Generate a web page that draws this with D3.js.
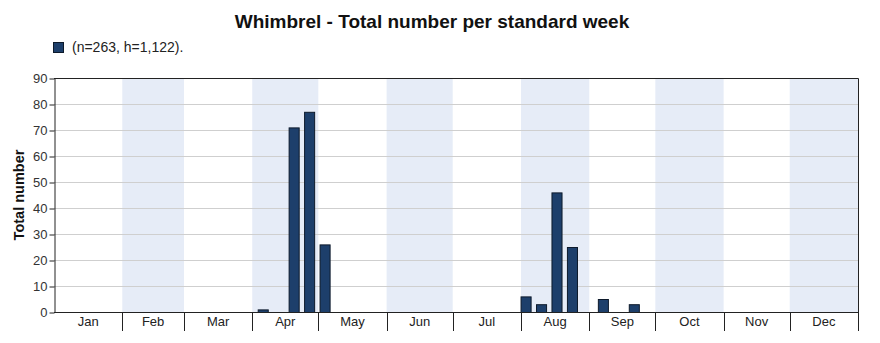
<!DOCTYPE html>
<html>
<head>
<meta charset="utf-8">
<script src="https://cdn.jsdelivr.net/npm/d3@7"></script>
<style>
  html, body { margin: 0; padding: 0; background: #fff; }
  svg { display: block; font-family: "Liberation Sans", Arial, sans-serif; }
</style>
</head>
<body>
<svg id="chart" width="880" height="343"></svg>
<script>
// Standard weeks 1..52 and the total count recorded in each
const weeks = d3.range(1, 53);
const weekCounts = [
  0, 0, 0, 0, 0, 0, 0, 0, 0, 0, 0, 0, 0,
  1, 0, 71, 77, 26,
  0, 0, 0, 0, 0, 0, 0, 0, 0, 0, 0, 0,
  6, 3, 46, 25, 0, 5, 0, 3,
  0, 0, 0, 0, 0, 0, 0, 0, 0, 0, 0, 0, 0, 0
];
const monthNames = ["Jan", "Feb", "Mar", "Apr", "May", "Jun", "Jul", "Aug", "Sep", "Oct", "Nov", "Dec"];
const monthDays = [31, 28, 31, 30, 31, 30, 31, 31, 30, 31, 30, 31];
const yTicks = [0, 10, 20, 30, 40, 50, 60, 70, 80, 90];
const titleText = "Whimbrel - Total number per standard week";
const legendText = "(n=263, h=1,122).";

const svg = d3.select("#chart");
const plot = { left: 54, right: 858, top: 78, bottom: 312 };

// Week bands across the year
const x = d3.scaleBand()
  .domain(weeks)
  .range([plot.left, plot.right])
  .paddingInner(0.35)
  .paddingOuter(0.175);

// Day-of-year scale for month bands
const xDay = d3.scaleLinear().domain([0, 365]).range([plot.left, plot.right]);
const monthStart = monthDays.map((d, i) => d3.sum(monthDays.slice(0, i)));
const months = monthNames.map((name, i) => ({ name, start: monthStart[i], end: monthStart[i] + monthDays[i], i }));

const y = d3.scaleLinear().domain([0, 90]).range([plot.bottom, plot.top]);

// Alternate month shading
svg.append("g").selectAll("rect")
  .data(months.filter(m => m.i % 2 === 1))
  .join("rect")
  .attr("x", m => xDay(m.start))
  .attr("y", plot.top)
  .attr("width", m => xDay(m.end) - xDay(m.start))
  .attr("height", plot.bottom - plot.top)
  .attr("fill", "#e6ecf7");

// Horizontal gridlines
svg.append("g").selectAll("line")
  .data(yTicks.filter(t => t > 0 && t < 90))
  .join("line")
  .attr("x1", plot.left).attr("x2", plot.right)
  .attr("y1", d => y(d) + 0.5).attr("y2", d => y(d) + 0.5)
  .attr("stroke", "#cfcfcf").attr("stroke-width", 1);

// Bars
svg.append("g").selectAll("rect")
  .data(weeks.map((w, i) => ({ w, v: weekCounts[i] })).filter(d => d.v > 0))
  .join("rect")
  .attr("x", d => x(d.w) + 0.5)
  .attr("y", d => y(d.v) + 0.5)
  .attr("width", x.bandwidth())
  .attr("height", d => y(0) - y(d.v))
  .attr("fill", "#1d3f6b")
  .attr("stroke", "#0d1a2b")
  .attr("stroke-width", 1);

// Frame: top and right edges
svg.append("path")
  .attr("d", `M${plot.left},${plot.top + 0.5}H${plot.right + 0.5}V${plot.bottom}`)
  .attr("fill", "none").attr("stroke", "#222").attr("stroke-width", 1);

// Y axis
const yAxis = svg.append("g")
  .attr("transform", `translate(${plot.left + 0.5},0.5)`)
  .call(d3.axisLeft(y).tickValues(yTicks).tickSize(5).tickSizeOuter(0));
yAxis.select(".domain").attr("stroke", "#222");
yAxis.selectAll(".tick line").attr("stroke", "#222");
yAxis.selectAll(".tick text")
  .attr("font-family", "Liberation Sans, Arial, sans-serif")
  .attr("font-size", 13).attr("fill", "#333").attr("x", -7);

// X axis: baseline, month separators and month labels
svg.append("line")
  .attr("x1", plot.left).attr("x2", plot.right + 1)
  .attr("y1", plot.bottom + 0.5).attr("y2", plot.bottom + 0.5)
  .attr("stroke", "#222");
svg.append("g").selectAll("line")
  .data(monthStart.slice(1).concat([365]))
  .join("line")
  .attr("x1", d => Math.round(xDay(d)) + 0.5).attr("x2", d => Math.round(xDay(d)) + 0.5)
  .attr("y1", plot.bottom).attr("y2", plot.bottom + 19)
  .attr("stroke", "#222");
svg.append("g").selectAll("text")
  .data(months)
  .join("text")
  .attr("x", m => (xDay(m.start) + xDay(m.end)) / 2)
  .attr("y", plot.bottom + 14)
  .attr("text-anchor", "middle")
  .attr("font-size", 13).attr("fill", "#222")
  .text(m => m.name);

// Y axis title
svg.append("text")
  .attr("transform", `translate(24,${(plot.top + plot.bottom) / 2}) rotate(-90)`)
  .attr("text-anchor", "middle")
  .attr("font-size", 14.5).attr("font-weight", "bold").attr("fill", "#111")
  .text("Total number");

// Title
svg.append("text")
  .attr("x", 432).attr("y", 28)
  .attr("text-anchor", "middle")
  .attr("font-size", 19).attr("font-weight", "bold").attr("fill", "#111")
  .text(titleText);

// Legend
svg.append("rect")
  .attr("x", 53.5).attr("y", 42.5).attr("width", 10).attr("height", 10)
  .attr("fill", "#1d3f6b").attr("stroke", "#0d1a2b");
svg.append("text")
  .attr("x", 72).attr("y", 52)
  .attr("font-size", 14).attr("fill", "#222")
  .text(legendText);
</script>
</body>
</html>
